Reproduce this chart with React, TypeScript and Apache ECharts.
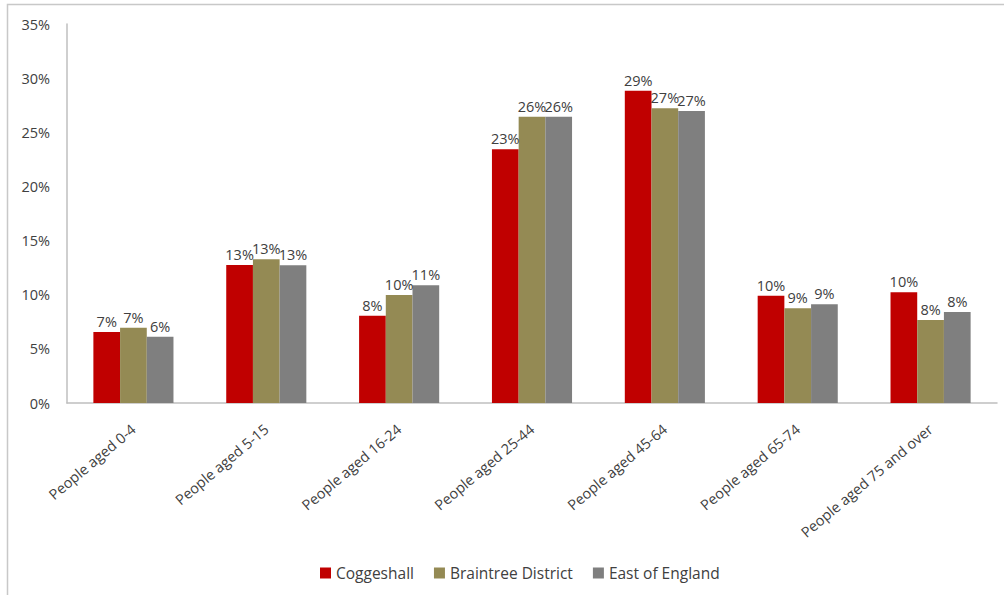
import React, { useEffect, useRef } from "react";
import * as echarts from "echarts";

const categories = [
  "People aged 0-4",
  "People aged 5-15",
  "People aged 16-24",
  "People aged 25-44",
  "People aged 45-64",
  "People aged 65-74",
  "People aged 75 and over",
];
const coggeshall = [6.56, 12.74, 8.06, 23.43, 28.84, 9.91, 10.22];
const braintree = [6.95, 13.27, 9.97, 26.44, 27.21, 8.74, 7.66];
const eastEngland = [6.12, 12.71, 10.87, 26.44, 26.96, 9.11, 8.4];
const yTicks = [0, 5, 10, 15, 20, 25, 30, 35];

const FONT = "Open Sans";
const TXT = "#404040";

export default function App() {
  const ref = useRef<HTMLDivElement>(null);
  useEffect(() => {
    if (!ref.current) return;
    const chart = echarts.init(ref.current, undefined, { renderer: "svg" });
    const mk = (name: string, data: number[], color: string) => ({
      name,
      type: "bar",
      data,
      barWidth: 26.7,
      barGap: "0%",
      itemStyle: { color },
      label: {
        show: true,
        position: "top",
        distance: 3,
        color: TXT,
        fontFamily: FONT,
        fontSize: 14.5,
        formatter: (p: any) => Math.round(p.value) + "%",
      },
    });
    chart.setOption({
      animation: false,
      textStyle: { fontFamily: FONT },
      grid: { left: 67, right: 7, top: 24, bottom: 192, containLabel: false },
      graphic: [
        {
          type: "polyline",
          shape: { points: [[7.5, 595], [7.5, 4.5], [1004, 4.5]] },
          style: { stroke: "#c8c8c8", lineWidth: 1.5, fill: "none" },
          silent: true,
        },
      ],
      legend: {
        bottom: 9,
        left: 315,
        itemWidth: 11,
        itemHeight: 11,
        itemGap: 20,
        icon: "rect",
        textStyle: { color: TXT, fontFamily: FONT, fontSize: 15.5 },
        data: ["Coggeshall", "Braintree District", "East of England"],
      },
      xAxis: {
        type: "category",
        data: categories,
        axisLine: { lineStyle: { color: "#bfbfbf", width: 1.5 } },
        axisTick: { show: false },
        axisLabel: {
          rotate: 40,
          interval: 0,
          margin: 24,
          color: TXT,
          fontFamily: FONT,
          fontSize: 14.5,
        },
      },
      yAxis: {
        type: "value",
        min: yTicks[0],
        max: yTicks[yTicks.length - 1],
        interval: 5,
        axisLine: { show: true, lineStyle: { color: "#bfbfbf", width: 1.5 } },
        axisTick: { show: false },
        splitLine: { show: false },
        axisLabel: {
          margin: 17,
          color: TXT,
          fontFamily: FONT,
          fontSize: 14.5,
          formatter: (v: number) => v + "%",
        },
      },
      series: [
        mk("Coggeshall", coggeshall, "#c00000"),
        mk("Braintree District", braintree, "#948a54"),
        mk("East of England", eastEngland, "#7f7f7f"),
      ],
    });
    return () => chart.dispose();
  }, []);
  return (
    <div
      ref={ref}
      style={{ position: "absolute", left: 0, top: 0, width: 1004, height: 595, background: "#fff" }}
    />
  );
}
